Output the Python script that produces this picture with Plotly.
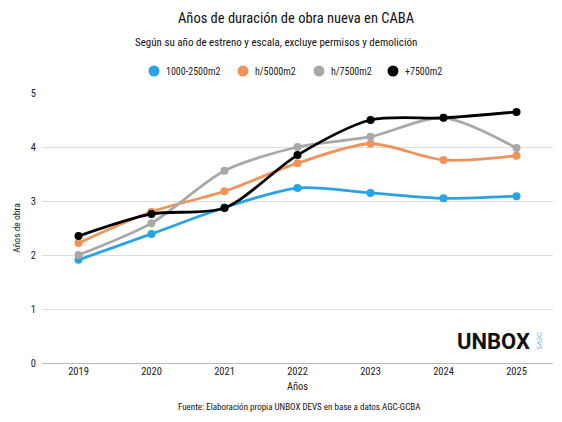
import plotly.graph_objects as go

years = [2019, 2020, 2021, 2022, 2023, 2024, 2025]
series_names = ["1000-2500m2", "h/5000m2", "h/7500m2", "+7500m2"]
v_small = [1.91, 2.39, 2.88, 3.24, 3.15, 3.05, 3.09]
v_5000 = [2.22, 2.80, 3.18, 3.70, 4.06, 3.76, 3.84]
v_7500 = [2.00, 2.59, 3.56, 4.00, 4.19, 4.54, 3.98]
v_big = [2.35, 2.76, 2.87, 3.85, 4.50, 4.54, 4.65]
series_values = [v_small, v_5000, v_7500, v_big]
colors = ["#28a4e2", "#f0935a", "#a8a8a8", "#000000"]
y_ticks = [0, 1, 2, 3, 4, 5]

FONT = "Roboto Condensed, Liberation Sans Narrow, Roboto, sans-serif"

W, H = 562, 422
ML, MR, MT, MB = 42, 9, 93, 59
plot_w = W - ML - MR
plot_h = H - MT - MB


def px(x):
    return (x - ML) / plot_w


def py(y):
    return (H - MB - y) / plot_h


fig = go.Figure()
for name, vals, col in zip(series_names, series_values, colors):
    fig.add_trace(go.Scatter(
        x=years, y=vals, mode="lines+markers", name=name,
        line=dict(color=col, width=2.8, shape="spline", smoothing=0.8),
        marker=dict(color=col, size=8),
        showlegend=False,
    ))

fig.update_layout(
    width=W, height=H,
    margin=dict(l=ML, r=MR, t=MT, b=MB),
    paper_bgcolor="white", plot_bgcolor="white",
    font=dict(family=FONT, color="#222", size=11),
    showlegend=False,
    xaxis=dict(range=[2018.5, 2025.5], tickvals=years, ticktext=[str(y) for y in years],
               showgrid=False, zeroline=False, showline=False, ticks="",
               title=dict(text="Años", font=dict(size=10.5), standoff=6),
               tickfont=dict(size=10.5, color="#222")),
    yaxis=dict(range=[0, 5.0], tickvals=y_ticks, showgrid=True, gridcolor="#dddddd",
               gridwidth=1, zeroline=True, zerolinecolor="#bbbbbb", zerolinewidth=1,
               ticks="", tickfont=dict(size=10.5, color="#222"), ticklabelstandoff=5,
               title=dict(text="Años de obra", font=dict(size=9.5), standoff=8)),
)


def ann(text, x, y, size, color="#111", xanchor="center", family=None, angle=0):
    f = dict(size=size, color=color)
    if family:
        f["family"] = family
    fig.add_annotation(text=text, xref="paper", yref="paper", x=px(x), y=py(y),
                       xanchor=xanchor, yanchor="middle", showarrow=False,
                       textangle=angle, font=f)


ann("Años de duración de obra nueva en CABA", 296, 18, 14.5)
ann("Según su año de estreno y escala, excluye permisos y demolición", 276, 42, 11)
ann("Fuente: Elaboración propia UNBOX DEVS en base a datos AGC-GCBA", 299, 407, 9)
ann("<b>UNBOX</b>", 532, 341, 22, family="Roboto, sans-serif", xanchor="right")
ann("DEVS", 539, 341, 6.5, color="#5ab7dc", family="DejaVu Sans, sans-serif", angle=90)

# manual legend: circle symbols + labels
legend_dot_x = [154, 243, 319, 393]
legend_y = 71
for name, col, dx in zip(series_names, colors, legend_dot_x):
    fig.add_shape(type="circle", xref="paper", yref="paper",
                  xsizemode="pixel", ysizemode="pixel",
                  xanchor=px(dx), yanchor=py(legend_y),
                  x0=-5.5, x1=5.5, y0=-5.5, y1=5.5,
                  fillcolor=col, line=dict(width=0))
    ann(name, dx + 10, legend_y, 10, color="#222", xanchor="left")

fig.write_html("out.html")
